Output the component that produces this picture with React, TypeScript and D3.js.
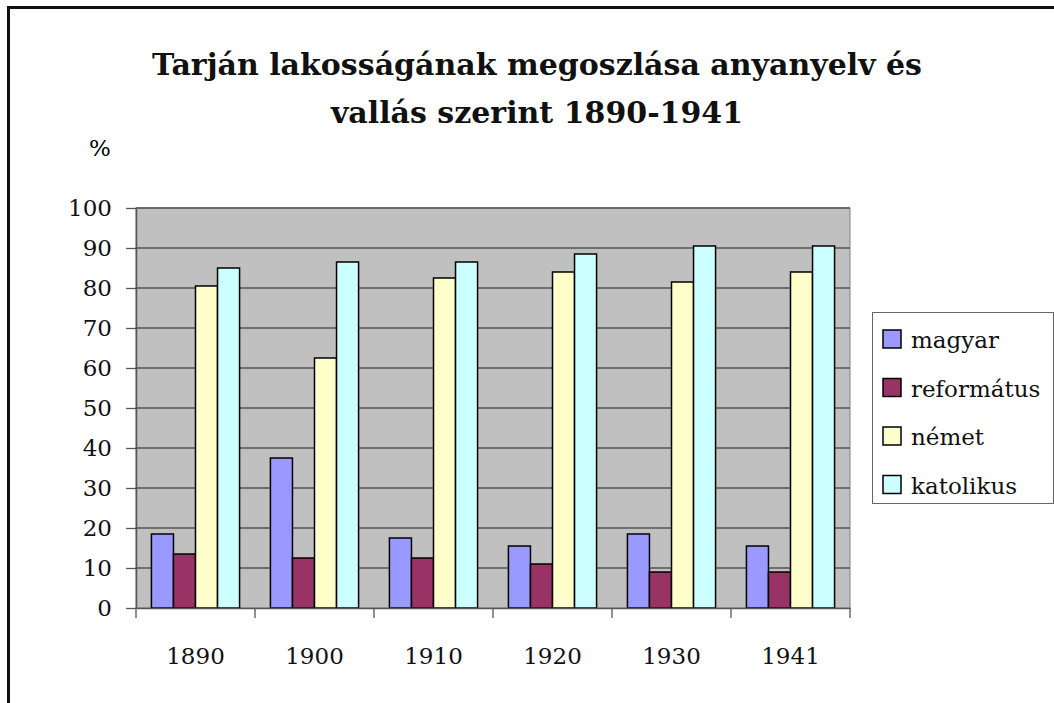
import { useEffect, useRef } from "react";
import * as d3 from "d3";

const years = ["1890", "1900", "1910", "1920", "1930", "1941"];
const seriesNames = ["magyar", "református", "német", "katolikus"];
const magyar = [18.5, 37.5, 17.5, 15.5, 18.5, 15.5];
const reformatus = [13.5, 12.5, 12.5, 11, 9, 9];
const nemet = [80.5, 62.5, 82.5, 84, 81.5, 84];
const katolikus = [85, 86.5, 86.5, 88.5, 90.5, 90.5];
const yTicks = [0, 10, 20, 30, 40, 50, 60, 70, 80, 90, 100];
const colors = ["#9999FF", "#993366", "#FFFFCC", "#CCFFFF"];

const titleLines = ["Tarján lakosságának megoszlása anyanyelv és", "vallás szerint 1890-1941"];

export default function App() {
  const ref = useRef<SVGSVGElement>(null);

  useEffect(() => {
    const W = 1054;
    const H = 703;
    const left = 136, right = 850, top = 208, bottom = 608;
    const font = "'DejaVu Serif', serif";

    const values = [magyar, reformatus, nemet, katolikus];

    const svg = d3.select(ref.current);
    svg.selectAll("*").remove();
    svg.attr("width", W).attr("height", H).style("font-family", font);

    svg.append("rect").attr("width", W).attr("height", H).attr("fill", "white");

    // outer frame (cropped at right and bottom)
    svg.append("path")
      .attr("d", `M8.5,${H + 5} L8.5,7.5 L${W + 5},7.5`)
      .attr("fill", "none")
      .attr("stroke", "#111")
      .attr("stroke-width", 3);

    // title
    const title = svg.append("text")
      .attr("text-anchor", "middle")
      .style("font-family", font)
      .attr("font-weight", "bold")
      .attr("font-size", 30)
      .attr("fill", "#111");
    titleLines.forEach((t, i) => {
      title.append("tspan").attr("x", 537).attr("y", 75 + i * 48).text(t);
    });

    svg.append("text")
      .attr("x", 100).attr("y", 156)
      .attr("text-anchor", "middle")
      .style("font-family", font)
      .attr("font-size", 23)
      .text("%");

    const x0 = d3.scaleBand<string>().domain(years).range([left, right]).padding(0);
    const x1 = d3.scaleBand<string>().domain(seriesNames).range([0, x0.bandwidth()]).paddingInner(0).paddingOuter(0.7);
    const y = d3.scaleLinear().domain([0, 100]).range([bottom, top]);

    // plot area
    svg.append("rect")
      .attr("x", left).attr("y", top)
      .attr("width", right - left).attr("height", bottom - top)
      .attr("fill", "#C0C0C0")
      .attr("stroke", "#808080")
      .attr("stroke-width", 1);

    // gridlines
    svg.append("g")
      .selectAll("line")
      .data(yTicks.filter(d => d > 0))
      .join("line")
      .attr("x1", left).attr("x2", right)
      .attr("y1", d => y(d)).attr("y2", d => y(d))
      .attr("stroke", "#555")
      .attr("stroke-width", 1.3);

    // bars
    const groups = svg.append("g")
      .selectAll("g")
      .data(years)
      .join("g")
      .attr("transform", d => `translate(${x0(d)},0)`);

    groups.selectAll("rect")
      .data((_, i) => seriesNames.map((s, k) => ({ s, k, v: values[k][i] })))
      .join("rect")
      .attr("x", d => x1(d.s)!)
      .attr("y", d => y(d.v))
      .attr("width", x1.bandwidth())
      .attr("height", d => y(0) - y(d.v))
      .attr("fill", d => colors[d.k])
      .attr("stroke", "#000")
      .attr("stroke-width", 1.5);

    // y axis
    const yAxis = svg.append("g")
      .attr("transform", `translate(${left},0)`)
      .call(d3.axisLeft(y).tickValues(yTicks).tickSize(10).tickPadding(14).tickSizeOuter(0));
    yAxis.attr("font-family", null);
    yAxis.select(".domain").attr("stroke", "#555").attr("stroke-width", 1.5);
    yAxis.selectAll(".tick line").attr("stroke", "#555").attr("stroke-width", 1.3);
    yAxis.selectAll("text")
      .style("font-family", font)
      .attr("font-size", 23)
      .attr("fill", "#111");

    // x axis
    const xAxis = svg.append("g")
      .attr("transform", `translate(0,${bottom})`)
      .call(d3.axisBottom(x0).tickSize(0).tickPadding(40));
    xAxis.attr("font-family", null);
    xAxis.select(".domain").attr("stroke", "#555").attr("stroke-width", 1.5);
    xAxis.selectAll("text")
      .style("font-family", font)
      .attr("font-size", 23)
      .attr("fill", "#111");
    xAxis.selectAll(".boundary")
      .data(years.map(d => x0(d)!).concat([right]))
      .join("line")
      .attr("class", "boundary")
      .attr("x1", d => d).attr("x2", d => d)
      .attr("y1", 0).attr("y2", 10)
      .attr("stroke", "#555")
      .attr("stroke-width", 1.3);

    // legend
    const legend = svg.append("g");
    legend.append("rect")
      .attr("x", 872.5).attr("y", 312.5)
      .attr("width", 181).attr("height", 191)
      .attr("fill", "white")
      .attr("stroke", "#666")
      .attr("stroke-width", 1);
    const items = legend.selectAll("g.item")
      .data(seriesNames)
      .join("g")
      .attr("class", "item")
      .attr("transform", (_, i) => `translate(883,${330 + i * 48.5})`);
    items.append("rect")
      .attr("width", 18).attr("height", 18)
      .attr("fill", (_, i) => colors[i])
      .attr("stroke", "#000")
      .attr("stroke-width", 1.5);
    items.append("text")
      .attr("x", 28).attr("y", 18)
      .style("font-family", font)
      .attr("font-size", 23)
      .attr("fill", "#111")
      .text(d => d);
  }, []);

  return (
    <div style={{ position: "fixed", left: 0, top: 0 }}>
      <svg ref={ref} />
    </div>
  );
}
